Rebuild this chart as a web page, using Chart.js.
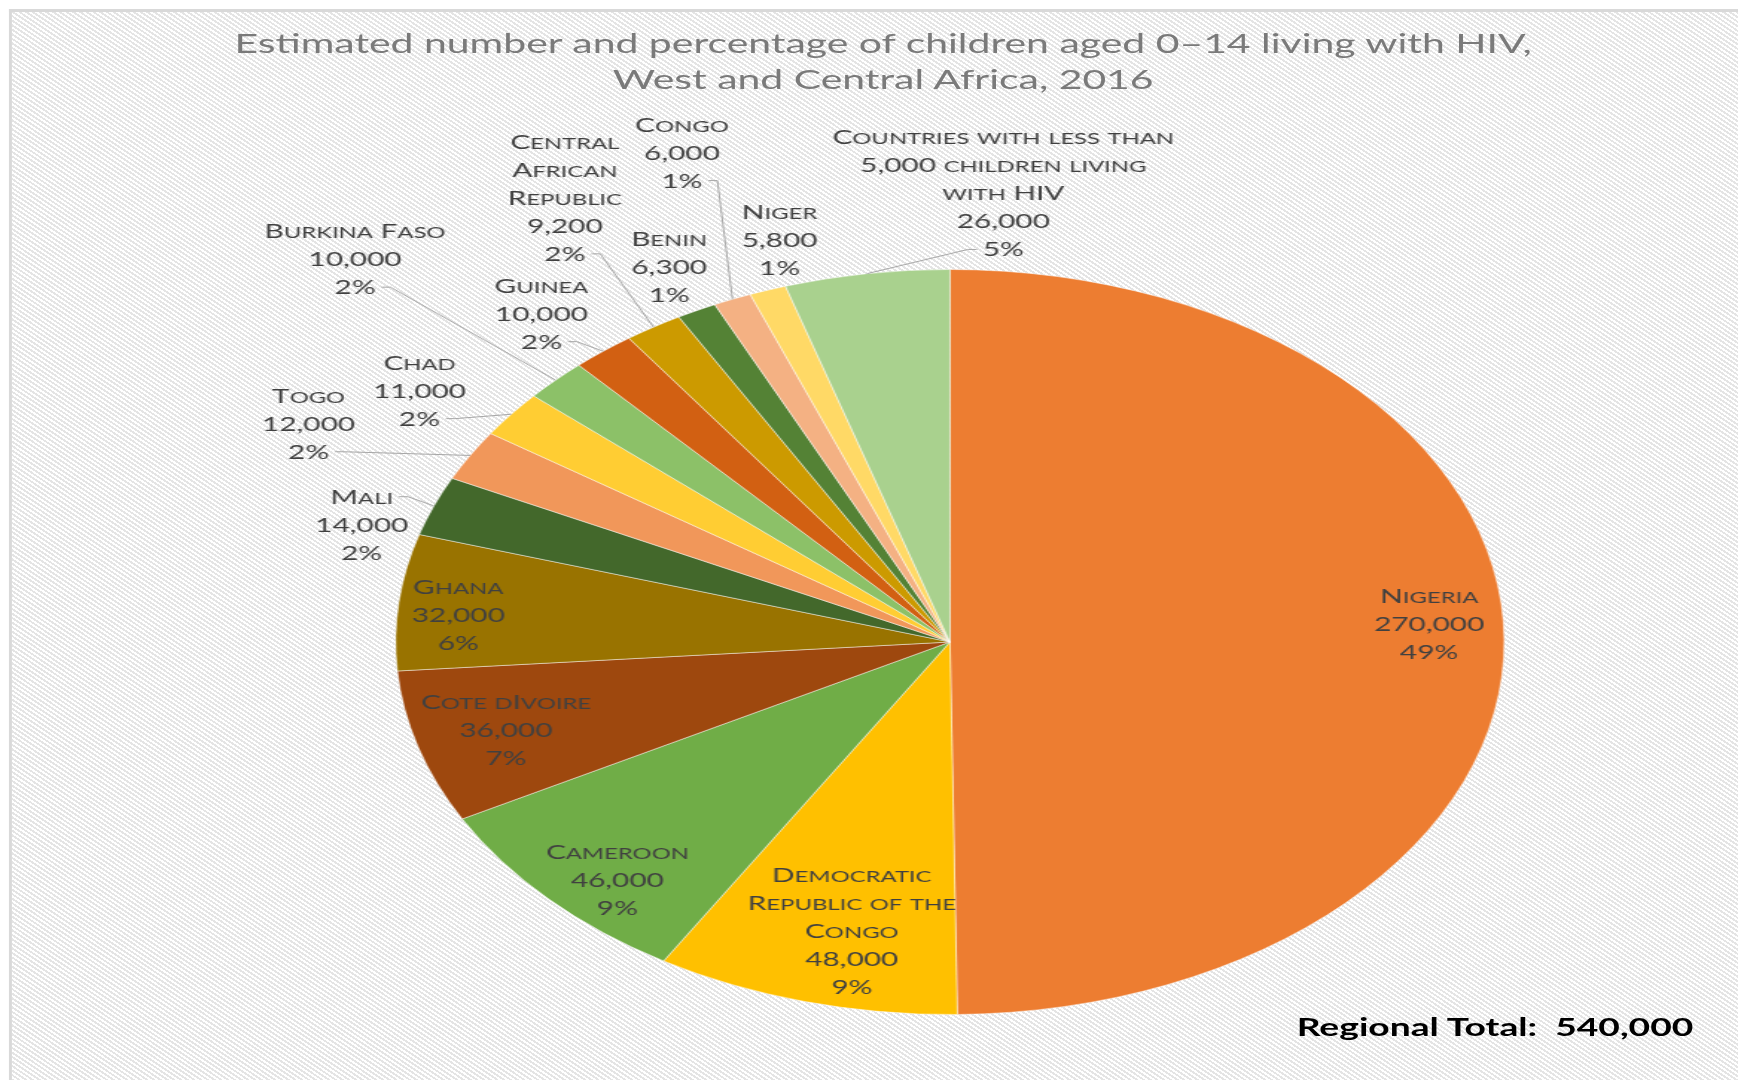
<!DOCTYPE html>
<html lang="en">
<head>
<meta charset="UTF-8">
<title>Children aged 0-14 living with HIV, West and Central Africa, 2016</title>
<style>
    html, body {
        margin: 0;
        padding: 0;
        width: 1738px;
        height: 1080px;
        overflow: hidden;
        background: #fff;
    }

    /* the original picture is stretched sideways, so the whole chart is too */
    .stretch {
        position: absolute;
        left: 0;
        top: 0;
        width: 1168px;
        height: 1080px;
        transform: scaleX(1.488);
        transform-origin: 0 0;
    }

    .frame {
        position: absolute;
        left: 6px;
        top: 9px;
        right: -30px;
        bottom: -30px;
        border: 2px solid #d9d9d9;
        border-width: 3px 0 0 2px;
        background: repeating-linear-gradient(45deg, #ffffff 0 1.6px, #e4e4e4 1.6px 3.2px);
    }

    canvas {
        position: absolute;
        left: 0;
        top: 0;
    }

    .title {
        position: absolute;
        left: 0;
        top: 25px;
        width: 1187px;
        text-align: center;
        font: 27.5px Lato, sans-serif;
        line-height: 36px;
        color: #7a7a7a;
    }

    .total {
        position: absolute;
        right: 30px;
        top: 1011px;
        font: bold 25px Lato, sans-serif;
        line-height: 30px;
        color: #000;
        white-space: pre;
    }
</style>
</head>
<body>
<div class="stretch">
    <div class="frame"></div>
    <canvas id="hivChart" width="1168" height="1080"></canvas>
    <div class="title">Estimated number and percentage of children aged 0–14 living with HIV,<br>West and Central Africa, 2016</div>
    <div class="total" id="total"></div>
</div>

<script src="https://cdn.jsdelivr.net/npm/chart.js"></script>
<script>
    const countries = [
        'Nigeria', 'Democratic\nRepublic of the\nCongo', 'Cameroon', 'Cote dIvoire', 'Ghana',
        'Mali', 'Togo', 'Chad', 'Burkina Faso', 'Guinea', 'Central\nAfrican\nRepublic',
        'Benin', 'Congo', 'Niger', 'Countries with less than\n5,000 children living\nwith HIV'
    ];
    const children = [270000, 48000, 46000, 36000, 32000, 14000, 12000, 11000, 10000, 10000, 9200, 6300, 6000, 5800, 26000];
    const shares = [49, 9, 9, 7, 6, 2, 2, 2, 2, 2, 2, 1, 1, 1, 5];
    const regionalTotal = 540000;

    const sliceColors = [
        '#ED7D31', '#FFC000', '#70AD47', '#9E480E', '#997300',
        '#43682B', '#F1975A', '#FFCD33', '#8CC168', '#D26012',
        '#CC9A00', '#548235', '#F4B183', '#FFD966', '#A9D18E'
    ];

    // label placement: [distance from centre in radii, angle shift in degrees, leader line]
    const labelPlace = [
        [0.866, -2.9, false], [0.795, -2.3, false], [0.877, -3.2, false], [0.835, 0, false], [0.89, -1.5, false],
        [1.107, -4.9, true], [1.297, -3.2, true], [1.171, -2.5, true], [1.486, -0.9, true], [1.149, -1.2, true],
        [1.38, 2.1, true], [1.128, 0.5, false], [1.40, 2.9, true], [1.123, 3.3, false], [1.208, 13.2, true]
    ];

    document.getElementById('total').textContent = 'Regional Total:  ' + regionalTotal.toLocaleString('en-US');

    const bigFont = '20px Lato';
    const smallFont = '16px Lato';

    // small caps by hand: lower case letters become smaller capitals
    function capsRuns(text) {
        const runs = [];
        for (const ch of text) {
            const small = ch !== ch.toUpperCase();
            const last = runs[runs.length - 1];
            if (last && last.small === small) last.text += small ? ch.toUpperCase() : ch;
            else runs.push({ small, text: small ? ch.toUpperCase() : ch });
        }
        return runs;
    }

    function capsWidth(ctx, text) {
        return capsRuns(text).reduce((w, r) => {
            ctx.font = r.small ? smallFont : bigFont;
            return w + ctx.measureText(r.text).width;
        }, 0);
    }

    function drawCaps(ctx, text, cx, baseline) {
        let x = cx - capsWidth(ctx, text) / 2;
        capsRuns(text).forEach(r => {
            ctx.font = r.small ? smallFont : bigFont;
            ctx.fillText(r.text, x, baseline);
            x += ctx.measureText(r.text).width;
        });
    }

    // Draw name / number / share next to every slice
    const sliceLabels = {
        id: 'sliceLabels',
        afterDatasetsDraw(chart) {
            const ctx = chart.ctx;
            const arcs = chart.getDatasetMeta(0).data;
            const lh = 28;
            ctx.save();
            ctx.fillStyle = '#404040';
            ctx.strokeStyle = '#a6a6a6';
            ctx.lineWidth = 1;
            ctx.textAlign = 'left';
            ctx.textBaseline = 'alphabetic';
            arcs.forEach((arc, i) => {
                const p = arc.getProps(['x', 'y', 'startAngle', 'endAngle', 'outerRadius'], true);
                const [dist, shift, leader] = labelPlace[i];
                const mid = (p.startAngle + p.endAngle) / 2;
                const a = mid + shift * Math.PI / 180;
                const cx = p.x + Math.cos(a) * p.outerRadius * dist;
                const cy = p.y + Math.sin(a) * p.outerRadius * dist;
                const lines = countries[i].split('\n').concat([children[i].toLocaleString('en-US'), shares[i] + '%']);
                const top = cy - (lines.length - 1) * lh / 2;
                lines.forEach((t, k) => drawCaps(ctx, t, cx, top + k * lh + 7));

                if (leader) {
                    const tx = p.x + Math.cos(mid) * p.outerRadius;
                    const ty = p.y + Math.sin(mid) * p.outerRadius;
                    let k = Math.round((ty - top) / lh);
                    k = Math.max(0, Math.min(lines.length - 1, k));
                    const ly = top + k * lh;
                    const dir = tx > cx ? 1 : -1;
                    const sx = cx + dir * (capsWidth(ctx, lines[k]) / 2 + 4);
                    ctx.beginPath();
                    ctx.moveTo(sx, ly);
                    ctx.lineTo(sx + dir * 6, ly);
                    ctx.lineTo(tx, ty);
                    ctx.stroke();
                }
            });
            ctx.restore();
        }
    };

    new Chart(document.getElementById('hivChart').getContext('2d'), {
        type: 'pie',
        data: {
            labels: countries.map(c => c.replace(/\n/g, ' ')),
            datasets: [{
                data: children,
                backgroundColor: sliceColors,
                borderColor: 'rgba(255, 255, 255, 0.45)',
                borderWidth: 1
            }]
        },
        options: {
            responsive: false,
            animation: false,
            layout: {
                padding: { left: 108.8, right: 0, top: 269, bottom: 65 }
            },
            plugins: {
                legend: { display: false },
                tooltip: { enabled: false }
            }
        },
        plugins: [sliceLabels]
    });
</script>
</body>
</html>
